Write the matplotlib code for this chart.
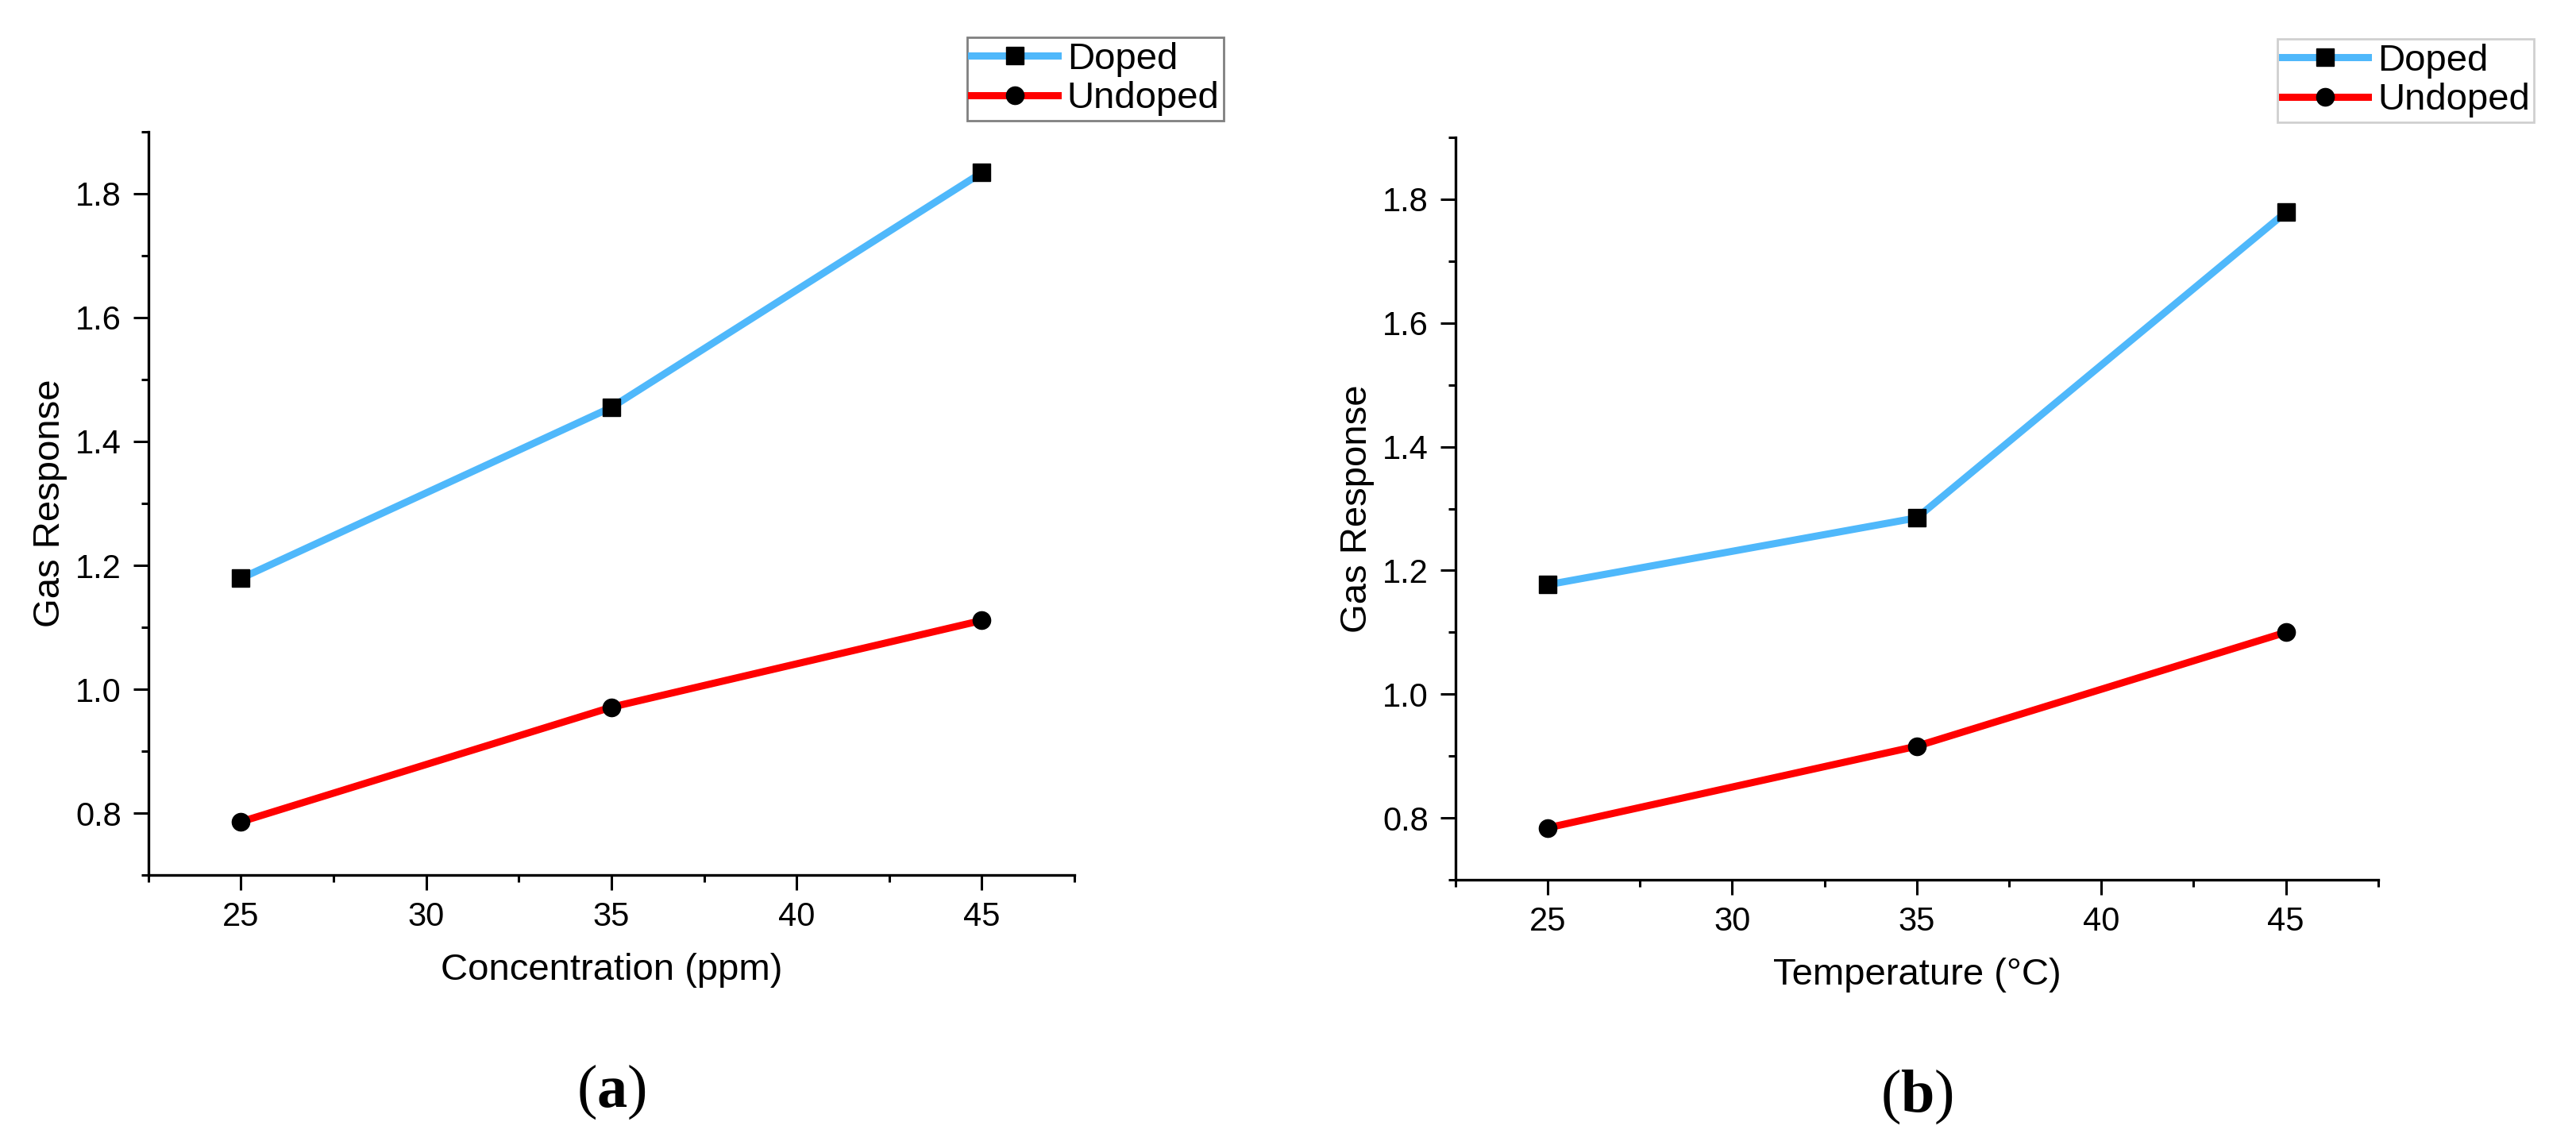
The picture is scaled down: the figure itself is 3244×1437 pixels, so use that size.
import numpy as np
import matplotlib
matplotlib.use("Agg")
import matplotlib.pyplot as plt
from matplotlib.ticker import MultipleLocator

plt.rcParams["font.family"] = ["Liberation Sans", "DejaVu Sans"]
plt.rcParams["mathtext.fontset"] = "custom"
plt.rcParams["mathtext.rm"] = "Liberation Serif"
plt.rcParams["mathtext.bf"] = "Liberation Serif:bold"

# --- data ---
x_conc = [25, 35, 45]
doped_conc = [1.179, 1.455, 1.834]
undoped_conc = [0.786, 0.971, 1.111]

x_temp = [25, 35, 45]
doped_temp = [1.177, 1.285, 1.779]
undoped_temp = [0.784, 0.916, 1.100]

xticks = [25, 30, 35, 40, 45]
yticks = [0.8, 1.0, 1.2, 1.4, 1.6, 1.8]

BLUE = "#4fb8fb"
RED = "#ff0000"

fig = plt.figure(figsize=(32.44, 14.37), dpi=100)
ax_a = fig.add_axes([0.0576, 0.2331, 0.3595, 0.6514])
ax_b = fig.add_axes([0.5650, 0.2289, 0.3582, 0.6507])

panels = [
    (ax_a, x_conc, doped_conc, undoped_conc, "Concentration (ppm)",
     (0.884, 1.127), "#606060", "a"),
    (ax_b, x_temp, doped_temp, undoped_temp, "Temperature (\u00b0C)",
     (0.8907, 1.1326), "#c4c4c4", "b"),
]

for ax, xs, dop, und, xlabel, leg_pos, leg_edge, tag in panels:
    ax.plot(xs, dop, color=BLUE, lw=6.5, marker="s", ms=16,
            mfc="black", mec="black", label="Doped")
    ax.plot(xs, und, color=RED, lw=6.5, marker="o", ms=16,
            mfc="black", mec="black", label="Undoped")

    ax.set_xlim(22.5, 47.5)
    ax.set_ylim(0.7, 1.9)
    ax.set_xticks(xticks)
    ax.set_yticks(yticks)
    ax.set_yticklabels([f"{v:.1f}" for v in yticks])
    ax.xaxis.set_minor_locator(MultipleLocator(2.5))
    ax.yaxis.set_minor_locator(MultipleLocator(0.1))

    for s in ("top", "right"):
        ax.spines[s].set_visible(False)
    for s in ("left", "bottom"):
        ax.spines[s].set_linewidth(2.4)

    ax.tick_params(which="major", direction="out", length=13.5, width=2.2,
                   labelsize=30, pad=10)
    ax.tick_params(which="minor", direction="out", length=6.5, width=2.2)
    ax.tick_params(axis="y", which="major", pad=11)

    ax.set_xlabel(xlabel, fontsize=34, va="center")
    ax.xaxis.set_label_coords(0.5, -0.128)
    ax.set_ylabel("Gas Response", fontsize=34, va="center")
    ax.yaxis.set_label_coords(-0.1063, 0.5)

    leg = ax.legend(loc="upper left", bbox_to_anchor=leg_pos, borderaxespad=0,
                    fontsize=34, frameon=True, fancybox=False,
                    handlelength=2.3, handletextpad=0.25, borderpad=0.12,
                    labelspacing=0.12, markerscale=1.0)
    leg.get_frame().set_edgecolor(leg_edge)
    leg.get_frame().set_linewidth(2)
    leg.set_clip_on(False)

    ax.text(0.5, -0.292, rf"($\mathbf{{{tag}}}$)", transform=ax.transAxes,
            ha="center", va="center", fontsize=55, family="Liberation Serif")

fig.savefig("out.png", dpi=100, facecolor="white")
